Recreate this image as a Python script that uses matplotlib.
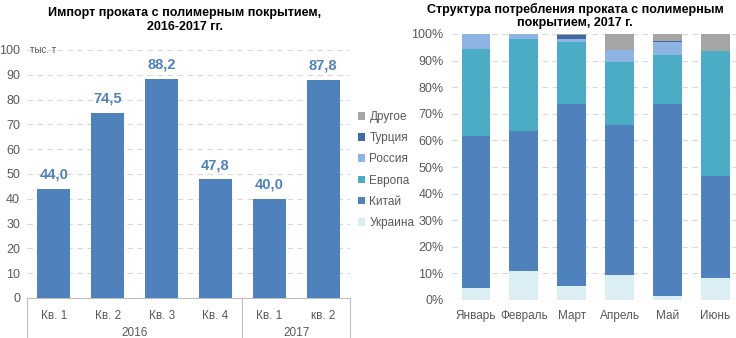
import numpy as np
import matplotlib.pyplot as plt

plt.rcParams['font.family'] = ['Liberation Sans', 'DejaVu Sans']

# left chart data
quarters = ["Кв. 1", "Кв. 2", "Кв. 3", "Кв. 4", "Кв. 1", "кв. 2"]
years = ["2016", "2017"]
import_vals = [44.0, 74.5, 88.2, 47.8, 40.0, 87.8]

# right chart data (shares, %)
months = ["Январь", "Февраль", "Март", "Апрель", "Май", "Июнь"]
ukraine = [4.6, 11.0, 5.4, 9.4, 1.5, 8.4]
china = [57.1, 52.6, 68.4, 56.5, 72.3, 38.4]
europe = [32.8, 34.6, 23.1, 23.7, 18.4, 46.7]
russia = [5.5, 1.8, 1.3, 4.3, 4.9, 0.2]
turkey = [0.0, 0.0, 1.4, 0.2, 0.3, 0.0]
other = [0.0, 0.0, 0.4, 5.9, 2.6, 6.3]

series = [("Украина", ukraine, "#DAEEF3"),
          ("Китай", china, "#4F81BD"),
          ("Европа", europe, "#4BACC6"),
          ("Россия", russia, "#8DB4E2"),
          ("Турция", turkey, "#3F6AA6"),
          ("Другое", other, "#A5A5A5")]

grey = "#595959"
W, H = 736, 338
fig = plt.figure(figsize=(W / 100, H / 100), dpi=100)

# ---- left chart ----
ax1 = fig.add_axes([27 / W, 1 - 298 / H, (350 - 27) / W, (298 - 50) / H])
x = np.arange(len(import_vals))
ax1.bar(x, import_vals, width=0.61, color="#4F81BD", zorder=3)
for xi, v in zip(x, import_vals):
    ax1.text(xi, v + 3, f"{v:.1f}".replace(".", ","), ha="center", va="bottom",
             color="#4F81BD", fontsize=10.5, fontweight="bold")
ax1.set_xlim(-0.5, len(x) - 0.5)
ax1.set_ylim(0, 100)
ax1.set_yticks(range(0, 101, 10))
ax1.tick_params(axis="y", length=0, labelsize=9, labelcolor=grey, pad=5)
ax1.set_xticks([])
ax1.yaxis.grid(True, linestyle=(0, (5, 4)), color="#D9D9D9", linewidth=0.8, zorder=0)
for s in ["top", "right", "left"]:
    ax1.spines[s].set_visible(False)
ax1.spines["bottom"].set_color("#BFBFBF")
for xi, q in zip(x, quarters):
    ax1.text(xi, -5, q, ha="center", va="top", fontsize=8.5, color=grey, clip_on=False)
ax1.text(1.5, -11.5, years[0], ha="center", va="top", fontsize=8.5, color=grey, clip_on=False)
ax1.text(4.5, -11.5, years[1], ha="center", va="top", fontsize=8.5, color=grey, clip_on=False)
for xb in [-0.5, 3.5, 5.5]:
    ax1.plot([xb, xb], [0, -17], color="#BFBFBF", linewidth=0.8, clip_on=False)
ax1.text(-0.45, 100, "тыс. т", ha="left", va="center", fontsize=7, color=grey)
fig.text(185 / W, 1 - 20 / H, "Импорт проката с полимерным покрытием,\n2016-2017 гг.",
         ha="center", va="center", fontsize=9, fontweight="bold", linespacing=1.2)

# ---- right chart ----
ax2 = fig.add_axes([452 / W, 1 - 300 / H, (736 - 452) / W, (300 - 34) / H])
m = np.arange(len(months))
bottom = np.zeros(len(months))
handles = []
for name, vals, col in series:
    b = ax2.bar(m, vals, bottom=bottom, width=0.6, color=col, label=name, zorder=3)
    handles.append(b)
    bottom += np.array(vals)
ax2.set_xlim(-0.5, 5.43)
ax2.set_ylim(0, 100)
ax2.set_yticks(range(0, 101, 10))
ax2.set_yticklabels([f"{v}%" for v in range(0, 101, 10)])
ax2.tick_params(axis="y", length=0, labelsize=9, labelcolor=grey, pad=6)
ax2.set_xticks(m)
ax2.set_xticklabels(months)
ax2.tick_params(axis="x", length=0, labelsize=8.5, labelcolor=grey, pad=7)
ax2.yaxis.grid(True, linestyle=(0, (5, 4)), color="#D9D9D9", linewidth=0.8, zorder=0)
for s in ["top", "right", "left", "bottom"]:
    ax2.spines[s].set_visible(False)
fig.text(575 / W, 1 - 16 / H, "Структура потребления проката с полимерным\nпокрытием, 2017 г.",
         ha="center", va="center", fontsize=9, fontweight="bold", linespacing=1.2)

leg = fig.legend(handles[::-1], [s[0] for s in series][::-1], loc="center left",
                 bbox_to_anchor=(347 / W, 1 - 170 / H), frameon=False, fontsize=8.5,
                 handlelength=0.6, handleheight=0.6, handletextpad=0.4, labelspacing=0.78)
for t in leg.get_texts():
    t.set_color(grey)

fig.savefig("out.png", dpi=100)
